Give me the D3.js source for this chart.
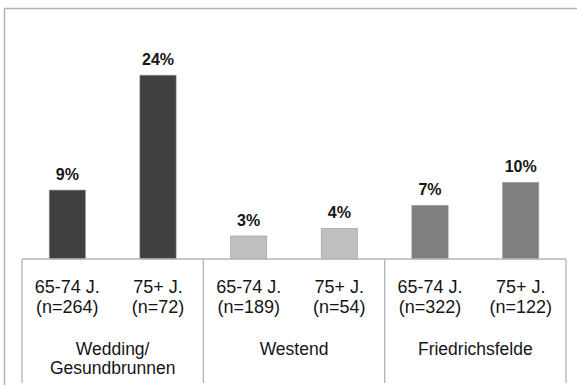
<!DOCTYPE html>
<html>
<head>
<meta charset="utf-8">
<script src="https://cdn.jsdelivr.net/npm/d3@7"></script>
<style>
  html, body { margin: 0; padding: 0; background: #fff; }
  svg { display: block; }
  text { font-family: "Liberation Sans", Arial, sans-serif; fill: #151515; }
</style>
</head>
<body>
<svg id="chart" width="577" height="385"></svg>
<script>
// Districts, age groups and shares (percent)
const districts = ["Wedding/\nGesundbrunnen", "Westend", "Friedrichsfelde"];
const ageGroups = ["65-74 J.", "75+ J."];
const sampleSizes = [[264, 72], [189, 54], [322, 122]];
const shares = [[9, 24], [3, 4], [7, 10]];
const districtColors = ["#404040", "#c0c0c0", "#7f7f7f"];

const rows = [];
districts.forEach((d, i) => {
  ageGroups.forEach((a, j) => {
    rows.push({ key: i + "-" + j, district: i, age: a, n: sampleSizes[i][j], value: shares[i][j] });
  });
});

const svg = d3.select("#chart");
const left = 22, right = 566, base = 259, bottom = 383;

const x = d3.scaleBand()
  .domain(rows.map(r => r.key))
  .range([left, right])
  .paddingInner(0.6)
  .paddingOuter(0.3);

const y = d3.scaleLinear().domain([0, 30]).range([base, base - 7.66 * 30]);

// outer frame
svg.append("rect")
  .attr("x", 4.5).attr("y", 8.5)
  .attr("width", 600).attr("height", 400)
  .attr("fill", "none").attr("stroke", "#b4b4b4").attr("stroke-width", 1.5);

// bars
svg.selectAll("rect.bar").data(rows).join("rect")
  .attr("class", "bar")
  .attr("x", d => x(d.key))
  .attr("width", x.bandwidth())
  .attr("y", d => y(d.value))
  .attr("height", d => base - y(d.value))
  .attr("fill", d => districtColors[d.district])
  .attr("stroke", "#9a9a9a").attr("stroke-width", 0.6);

// value labels
svg.selectAll("text.val").data(rows).join("text")
  .attr("class", "val")
  .attr("x", d => x(d.key) + x.bandwidth() / 2)
  .attr("y", d => y(d.value) - 10)
  .attr("text-anchor", "middle")
  .attr("font-size", 16).attr("font-weight", "bold")
  .text(d => d.value + "%");

// category table lines
const step = x.step();
const groupEdges = districts.map((d, i) => x(rows[i * 2].key) - (step - x.bandwidth()) / 2);
groupEdges.push(right);
const grid = svg.append("g").attr("stroke", "#b4b4b4").attr("stroke-width", 1.3);
grid.append("line").attr("x1", left).attr("x2", right).attr("y1", base).attr("y2", base);
groupEdges.forEach(gx => {
  grid.append("line").attr("x1", gx).attr("x2", gx).attr("y1", base).attr("y2", bottom);
});

// age group labels
const tick = svg.selectAll("g.tick").data(rows).join("g")
  .attr("class", "tick")
  .attr("transform", d => `translate(${x(d.key) + x.bandwidth() / 2},0)`);
tick.append("text").attr("y", 293).attr("text-anchor", "middle").attr("font-size", 18).text(d => d.age);
tick.append("text").attr("y", 313).attr("text-anchor", "middle").attr("font-size", 18).text(d => "(n=" + d.n + ")");

// district labels
districts.forEach((d, i) => {
  const cx = (groupEdges[i] + groupEdges[i + 1]) / 2;
  const t = svg.append("text").attr("text-anchor", "middle").attr("font-size", 17.5);
  d.split("\n").forEach((line, k) => {
    t.append("tspan").attr("x", cx).attr("y", 355 + k * 18.5).text(line);
  });
});
</script>
</body>
</html>
